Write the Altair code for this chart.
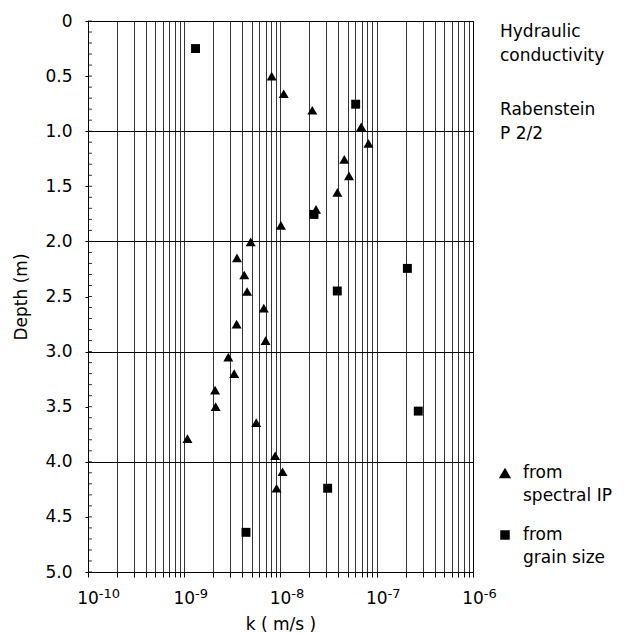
import altair as alt
import pandas as pd

# ---- data ----
tri_k = [8.1e-9, 1.08e-8, 2.14e-8, 6.9e-8, 8.2e-8, 4.6e-8, 5.15e-8, 3.9e-8, 2.34e-8,
         1.01e-8, 4.9e-9, 3.53e-9, 4.2e-9, 4.5e-9, 6.7e-9, 3.5e-9, 7.0e-9, 2.87e-9,
         3.3e-9, 2.09e-9, 2.12e-9, 5.6e-9, 1.08e-9, 8.8e-9, 1.05e-8, 9.1e-9]
tri_d = [0.50, 0.66, 0.81, 0.96, 1.11, 1.255, 1.405, 1.555, 1.71, 1.855, 2.005, 2.15,
         2.305, 2.455, 2.605, 2.75, 2.90, 3.05, 3.20, 3.35, 3.50, 3.645, 3.79, 3.945,
         4.09, 4.24]
sq_k = [1.31e-9, 6.04e-8, 2.23e-8, 2.08e-7, 3.89e-8, 2.7e-7, 3.09e-8, 4.38e-9]
sq_d = [0.25, 0.755, 1.755, 2.245, 2.45, 3.54, 4.24, 4.64]

series_names = ["from spectral IP", "from grain size"]

decades = [1e-10, 1e-9, 1e-8, 1e-7, 1e-6]
decade_exponents = ["-10", "-9", "-8", "-7", "-6"]
x_ticks = [m * d for d in decades[:-1] for m in range(1, 10)] + [1e-6]
y_label_values = [0, 0.5, 1.0, 1.5, 2.0, 2.5, 3.0, 3.5, 4.0, 4.5, 5.0]
y_minor = [round(i * 0.1, 1) for i in range(51)]

notes = ["Hydraulic", "conductivity", "Rabenstein", "P 2/2"]
legend_lines = [["from", "spectral IP"], ["from", "grain size"]]
legend_shapes = ["triangle-up", "square"]

# ---- tables ----
pts = pd.DataFrame({
    "k": tri_k + sq_k,
    "depth": tri_d + sq_d,
    "source": [series_names[0]] * len(tri_k) + [series_names[1]] * len(sq_k),
})
dec_df = pd.DataFrame({"k": decades, "exp": decade_exponents})
minor_df = pd.DataFrame({"depth": y_minor})

W, H = 385, 551
FONT = "DejaVu Sans"

xscale = alt.Scale(type="log", domain=[1e-10, 1e-6], nice=False)
yscale = alt.Scale(domain=[0, 5], reverse=True, nice=False)

x_axis = alt.Axis(values=x_ticks, labels=False, tickSize=5, tickColor="black",
                  domainColor="black", grid=True, gridColor="black", gridWidth=0.8,
                  title="k ( m/s )", titleFontSize=17, titleFontWeight="normal",
                  titleX=W / 2, titleY=57, titleBaseline="alphabetic", titleAlign="center")
y_axis = alt.Axis(values=y_label_values, tickSize=3, tickColor="black", domainColor="black",
                  labelFontSize=17, labelPadding=13, labelColor="black",
                  labelExpr="datum.value == 0 ? '0' : format(datum.value, '.1f')",
                  grid=True, gridColor="black", gridWidth=1,
                  gridOpacity={"condition": {"test": "datum.value % 1 === 0", "value": 1}, "value": 0},
                  title="Depth (m)", titleFontSize=17, titleFontWeight="normal",
                  titleX=-62, titleY=H / 2, titleAngle=-90, titleBaseline="alphabetic",
                  titleAlign="center")

X = alt.X("k:Q", scale=xscale, axis=x_axis)
Y = alt.Y("depth:Q", scale=yscale, axis=y_axis)

points = alt.Chart(pts).mark_point(filled=True, opacity=1, color="black").encode(
    x=X, y=Y,
    shape=alt.Shape("source:N", scale=alt.Scale(domain=series_names, range=legend_shapes), legend=None),
    size=alt.Size("source:N", scale=alt.Scale(domain=series_names, range=[100, 80]), legend=None),
)

minor = alt.Chart(minor_df).mark_rule(color="black", strokeWidth=0.8).encode(
    y=Y, x=alt.value(0), x2=alt.value(4)
)

ten = alt.Chart(dec_df).mark_text(fontSize=17, align="center", baseline="alphabetic", color="black").encode(
    x=X, y=alt.value(H + 32), text=alt.value("10")
)
expo = alt.Chart(dec_df).mark_text(fontSize=13, align="left", baseline="alphabetic", dx=10.8, color="black").encode(
    x=X, y=alt.value(H + 26), text="exp:N"
)

note_y = [16, 40, 94, 118]
note_layers = [
    alt.Chart(pd.DataFrame({"t": [notes[i]]})).mark_text(
        fontSize=17, align="left", baseline="alphabetic", color="black").encode(
        x=alt.value(412), y=alt.value(note_y[i]), text="t:N")
    for i in range(len(notes))
]

leg_layers = []
leg_sym_y = [452, 514]
leg_sizes = [150, 90]
for i in range(2):
    sym_df = pd.DataFrame({"s": [series_names[i]]})
    leg_layers.append(
        alt.Chart(sym_df).mark_point(filled=True, opacity=1, color="black", shape=legend_shapes[i],
                                     size=leg_sizes[i]).encode(
            x=alt.value(417), y=alt.value(leg_sym_y[i]))
    )
    for j, line in enumerate(legend_lines[i]):
        ldf = pd.DataFrame({"t": [line]})
        leg_layers.append(
            alt.Chart(ldf).mark_text(fontSize=17, align="left", baseline="alphabetic", color="black").encode(
                x=alt.value(435), y=alt.value(leg_sym_y[i] + 5 + 23 * j), text="t:N")
        )

chart = alt.layer(points, minor, ten, expo, *note_layers, *leg_layers).properties(
    width=W, height=H,
    autosize=alt.AutoSizeParams(type="none"),
    padding={"left": 80, "top": 13, "right": 144, "bottom": 70},
).configure(font=FONT).configure_view(stroke="black", strokeWidth=1).configure_axis(
    labelFont=FONT, titleFont=FONT, titleColor="black"
)

chart.save("out.html", embed_options={"renderer": "svg", "actions": False})
